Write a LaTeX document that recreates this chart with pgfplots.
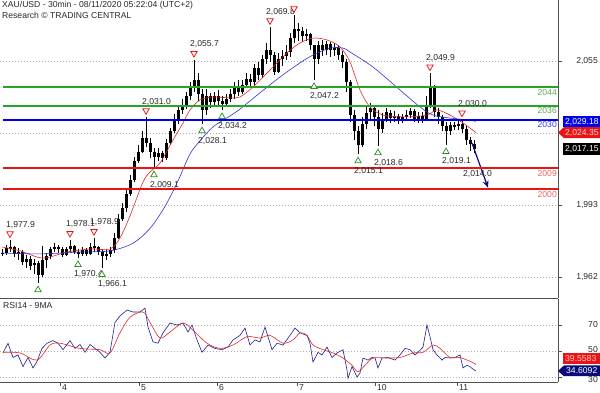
\documentclass[border=0pt]{standalone}
\usepackage{pgfplots}
\pgfplotsset{compat=1.18}
\usepackage{pgfplotstable}
\usepackage{fontspec}
\setmainfont{Liberation Sans}
\usetikzlibrary{arrows.meta}

\definecolor{lvgreen}{RGB}{40,165,40}
\definecolor{lvgreentxt}{RGB}{90,170,90}
\definecolor{lvblue}{RGB}{0,0,235}
\definecolor{lvbluetxt}{RGB}{60,60,225}
\definecolor{lvred}{RGB}{235,20,20}
\definecolor{lvredtxt}{RGB}{235,100,100}
\definecolor{mared}{RGB}{225,40,40}
\definecolor{mablue}{RGB}{50,50,210}
\definecolor{rsiblue}{RGB}{30,30,140}
\definecolor{navytag}{RGB}{10,10,120}
\definecolor{gridgray}{RGB}{175,175,175}
\definecolor{axisgray}{RGB}{80,80,80}
\definecolor{txtgray}{RGB}{40,40,40}
\definecolor{trigreen}{RGB}{40,150,40}

\newcommand\lab{\fontsize{8.6}{10.5}\selectfont}

\pgfplotstableread{
x o h l c
2 1972 1974 1971 1972.5
6 1972.5 1976 1971.5 1974.5
10 1974.5 1977.9 1973 1975
14 1975 1975.5 1970.5 1972
18 1972 1974.5 1969.5 1973
22 1973 1973.5 1967 1968.5
26 1968.5 1971.5 1966 1970
30 1970 1971 1965 1967
34 1967 1970 1963.5 1968
38 1968 1969 1959.5 1963
42 1963 1975.5 1962 1969.5
46 1969.5 1972.5 1966 1971
50 1971 1975 1970 1974
54 1974 1976.5 1973 1975
58 1975 1976 1972.5 1974
62 1974 1975 1970.5 1971.5
66 1971.5 1975 1971 1974
70 1974 1978.1 1973 1975.5
74 1975.5 1976 1972 1973
78 1973 1974 1970.4 1972
82 1972 1975 1971 1973.5
86 1973.5 1974.5 1971 1972
90 1972 1976.5 1971.5 1975
94 1975 1978.9 1973 1975
98 1975 1975.5 1971.5 1973
102 1973 1974 1966.1 1971
106 1971 1973.5 1969.5 1972
110 1972 1975 1970.5 1973.5
114 1973.5 1981 1972.5 1979
118 1979 1989 1978.5 1987
122 1987 1994 1986 1992
126 1992 2000 1990 1998
130 1998 2006 1997 2004
134 2004 2014 2003 2012
138 2012 2019 2011 2016
142 2016 2025 2015.5 2022
146 2022 2031.0 2018 2020
150 2020 2022 2013.5 2016
154 2016 2017.5 2009.1 2014
158 2014 2017.5 2012 2015.5
162 2015.5 2016.5 2011.5 2013.5
166 2013.5 2021.5 2012.5 2020
170 2020 2026.5 2019 2025
174 2025 2032.5 2024 2030
178 2030 2036 2028 2034
182 2034 2039 2032.5 2036
186 2036 2042 2034.5 2040
190 2040 2046 2038.5 2044
194 2044 2055.7 2042 2047
198 2047 2050 2038 2041
202 2041 2043 2028.1 2034
206 2034 2043 2032 2040
210 2040 2041.5 2035 2037.5
214 2037.5 2042 2036 2040
218 2040 2042.5 2036 2038
222 2038 2040 2034.2 2036.5
226 2036.5 2041 2035.5 2039
230 2039 2043 2037.5 2041
234 2041 2046 2039 2043.5
238 2043.5 2047 2040 2042
242 2042 2047 2041 2045
246 2045 2050 2044 2047.5
250 2047.5 2049.5 2043.5 2046
254 2046 2054 2045 2052
258 2052 2055 2047 2049
262 2049 2058 2048 2056
266 2056 2063 2054 2060
270 2060 2069.8 2055 2058
274 2058 2059 2049 2050.5
278 2050.5 2058.5 2050 2056
282 2056 2060 2053 2057.5
286 2057.5 2062 2055.5 2059
290 2059 2067.5 2057 2065
294 2065 2075 2063 2069
298 2069 2071.5 2064 2068
302 2068 2070 2063.5 2066
306 2066 2069 2064 2067
310 2067 2067.5 2060 2062
314 2062 2062 2047.2 2056
318 2056 2064 2054 2062
322 2062 2064.5 2057.5 2060
326 2060 2064 2058 2062.5
330 2062.5 2063.5 2057 2060
334 2060 2063 2057.5 2061
338 2061 2062 2055.5 2058
342 2058 2059.5 2052 2055
346 2055 2056 2042 2046
350 2046 2047 2029 2032
354 2032 2034 2021 2025
358 2025 2027 2015.1 2019
362 2019 2031 2018 2028
366 2028 2036 2026 2033
370 2033 2037 2030 2035
374 2035 2035.5 2027 2031
378 2031 2034 2018.6 2026
382 2026 2033 2024 2030
386 2030 2035 2029 2033
390 2033 2034 2028.5 2030.5
394 2030.5 2033.5 2029 2031.5
398 2031.5 2032.5 2028 2029.5
402 2029.5 2032.5 2028.5 2031
406 2031 2034 2030 2032
410 2032 2035 2030.5 2033.5
414 2033.5 2034.5 2029 2030
418 2030 2033 2028.5 2031.5
422 2031.5 2033 2028.5 2030
426 2030 2040 2029.5 2036
430 2036 2049.9 2035 2044
434 2044 2045 2031 2033
438 2033 2035 2028 2031
442 2031 2032 2025 2027
446 2027 2029 2019.1 2025
450 2025 2029 2023.5 2027.5
454 2027.5 2029 2025.5 2027
458 2027 2029.5 2025.5 2028
462 2028 2030.0 2024 2026
466 2026 2027 2019 2021
470 2021 2022.5 2016.5 2019.5
474 2019.5 2021 2015.5 2017.15
}\candles

\pgfplotstableread{
x y lab
10 1977.9 1,977.9
70 1978.1 1,978.1
94 1978.9 1,978.9
146 2031.0 2,031.0
194 2055.7 2,055.7
270 2069.8 2,069.8
430 2049.9 2,049.9
462 2030.0 2,030.0
}\highs

\pgfplotstableread{
x y
10 1977.9
70 1978.1
94 1978.9
146 2031.0
194 2055.7
270 2069.8
294 2075.0
430 2049.9
462 2030.0
}\hightri

\pgfplotstableread{
x y lab
78 1970.4 1,970.4
102 1966.1 1,966.1
154 2009.1 2,009.1
202 2028.1 2,028.1
222 2034.2 2,034.2
314 2047.2 2,047.2
358 2015.1 2,015.1
378 2018.6 2,018.6
446 2019.1 2,019.1
}\lows

\pgfplotstableread{
x y
38 1959.5
78 1970.4
102 1966.1
154 2009.1
202 2028.1
222 2034.2
314 2047.2
358 2015.1
378 2018.6
446 2019.1
}\lowtri

\begin{document}
\begin{tikzpicture}
\begin{axis}[
  at={(0,0)}, anchor=north west,
  scale only axis, width=558pt, height=298pt,
  xmin=0, xmax=558, ymin=1952.97, ymax=2081.53,
  axis x line*=bottom, axis y line*=right,
  axis line style={draw=axisgray, line width=0.8pt},
  xtick=\empty,
  ytick={1962,1993,2024,2055}, yticklabels={,,,},
  tick align=outside, major tick length=4pt,
  tick style={draw=axisgray, line width=0.6pt},
  ymajorgrids, grid style={gridgray, line width=0.9pt, dash pattern=on 1pt off 2pt},
  clip=false,
]
% candles: wicks
\addplot[draw=none, mark=none, error bars/.cd, y dir=both, y explicit, error mark=none,
  error bar style={draw=black, line width=0.55pt}]
  table[x=x, y expr={(\thisrow{h}+\thisrow{l})/2}, y error expr={(\thisrow{h}-\thisrow{l})/2}] {\candles};
% candles: bodies
\addplot[draw=none, mark=none, error bars/.cd, y dir=both, y explicit, error mark=none,
  error bar style={draw=black, line width=3pt}]
  table[x=x, y expr={(\thisrow{o}+\thisrow{c})/2}, y error expr={max(abs(\thisrow{c}-\thisrow{o})/2,0.3)}] {\candles};
% moving averages
\addplot[mared, line width=0.6pt, smooth] coordinates {
(2,1975) (20,1973.3) (43,1970.2) (67,1972.8) (90,1974.1) (110,1974.1) (120,1978.9)
(130,1988.4) (143,2003) (150,2007.3) (160,2011.2) (173,2021.1) (183,2028.5) (190,2034.1)
(200,2038.4) (213,2039.7) (230,2039.3) (240,2039.7) (253,2044) (270,2051.3) (287,2058.7)
(300,2063) (313,2065.1) (327,2064.3) (340,2061.3) (350,2054.8) (360,2042.7) (370,2035.4)
(383,2031.9) (407,2031.1) (427,2031.9) (437,2034.1) (450,2031.9) (463,2028.5) (476,2024.35)};
\addplot[mablue, line width=0.6pt, smooth] coordinates {
(2,1972.4) (40,1972) (80,1972.8) (110,1973.3) (133,1976.6) (150,1983) (165,1992.5)
(178,2003.5) (190,2015.1) (200,2020.8) (213,2026.8) (230,2031.5) (240,2034.5) (260,2041.5)
(280,2048.3) (300,2054.4) (313,2057.8) (330,2060.8) (343,2060.8) (350,2059.1) (373,2052.6)
(400,2042.7) (420,2035.4) (433,2031.9) (450,2030.6) (467,2029.8) (476,2029.18)};
% forecast arrow
\addplot[navytag, line width=1.2pt, -{Stealth[length=7pt, width=6pt]}] coordinates {(472,2019.8) (488,2000.6)};
% swing labels
\addplot[draw=none, mark=none, nodes near coords, point meta=explicit symbolic,
  every node near coord/.append style={anchor=base west, inner sep=0pt, xshift=-4pt, yshift=13pt, font=\lab, text=txtgray}]
  table[x=x, y=y, meta=lab] {\highs};
\addplot[draw=none, mark=none, nodes near coords, point meta=explicit symbolic,
  every node near coord/.append style={anchor=north west, inner sep=0pt, xshift=-4pt, yshift=-13pt, font=\lab, text=txtgray}]
  table[x=x, y=y, meta=lab] {\lows};
% levels, snapped to whole pixels (2 px high)
\fill[lvgreen] (axis cs:3,2043.566) rectangle (axis cs:558,2044.429);
\fill[lvgreen] (axis cs:3,2035.369) rectangle (axis cs:558,2036.232);
\fill[lvblue] (axis cs:3,2029.329) rectangle (axis cs:558,2030.192);
\fill[lvred] (axis cs:3,2008.622) rectangle (axis cs:558,2009.485);
\fill[lvred] (axis cs:3,1999.562) rectangle (axis cs:558,2000.425);
% swing markers
\addplot[only marks, mark=triangle*, mark size=3.7pt,
  mark options={yshift=6.5pt, rotate=180, draw=lvred, fill=white, line width=0.75pt}]
  table[x=x, y=y] {\hightri};
\addplot[only marks, mark=triangle*, mark size=3.7pt,
  mark options={yshift=-7pt, draw=trigreen, fill=white, line width=0.75pt}]
  table[x=x, y=y] {\lowtri};
% text
\node[anchor=west, inner sep=0pt, font=\lab, text=txtgray] at (axis cs:463,2006.5) {2,014.0};
\node[anchor=north east, inner sep=0pt, font=\lab, text=lvgreentxt, yshift=-2pt] at (axis cs:557,2044) {2044};
\node[anchor=north east, inner sep=0pt, font=\lab, text=lvgreentxt, yshift=-2pt] at (axis cs:557,2036) {2036};
\node[anchor=north east, inner sep=0pt, font=\lab, text=lvbluetxt, yshift=-2pt] at (axis cs:557,2030) {2030};
\node[anchor=north east, inner sep=0pt, font=\lab, text=lvredtxt, yshift=-2pt] at (axis cs:557,2009) {2009};
\node[anchor=north east, inner sep=0pt, font=\lab, text=lvredtxt, yshift=-2pt] at (axis cs:557,2000) {2000};
\node[anchor=north west, inner sep=0pt, align=left, font=\lab, text=txtgray, xshift=2pt, yshift=-1.5pt]
  at (rel axis cs:0,1) {XAU/USD - 30min - 08/11/2020 05:22:04 (UTC+2)\\Research \textcopyright{} TRADING CENTRAL};
% right tick labels
\node[anchor=east, inner sep=0pt, font=\lab, text=txtgray] at (axis cs:598,2055) {2,055};
\node[anchor=east, inner sep=0pt, font=\lab, text=txtgray] at (axis cs:598,1993) {1,993};
\node[anchor=east, inner sep=0pt, font=\lab, text=txtgray] at (axis cs:598,1962) {1,962};
% price tags
\fill[lvred] (axis cs:558,2024.35) -- (axis cs:564,2026.7) -- (axis cs:600,2026.7) -- (axis cs:600,2021.95) -- (axis cs:564,2021.95) -- cycle;
\node[anchor=west, inner sep=0pt, font=\lab, text=white!85!red] at (axis cs:565,2024.2) {2,024.35};
\fill[lvblue] (axis cs:563,2031.5) rectangle (axis cs:600,2026.6);
\node[anchor=west, inner sep=0pt, font=\lab, text=white] at (axis cs:565,2029.05) {2,029.18};
\fill[black] (axis cs:563,2019.8) rectangle (axis cs:600,2014.7);
\node[anchor=west, inner sep=0pt, font=\lab, text=white] at (axis cs:565,2017.25) {2,017.15};
\end{axis}

\begin{axis}[
  at={(0,-299pt)}, anchor=north west,
  scale only axis, width=558pt, height=83pt,
  xmin=0, xmax=558, ymin=26.15, ymax=90,
  axis x line*=bottom, axis y line*=right,
  axis line style={draw=axisgray, line width=0.8pt},
  xtick={60,139,217,297,375,457}, xticklabels={4,5,6,7,10,11},
  xticklabel style={anchor=north west, inner sep=0pt, xshift=2pt, yshift=2pt, font=\lab, text=txtgray},
  ytick={30,50,70}, yticklabels={,,},
  tick align=outside, major tick length=4pt,
  tick style={draw=axisgray, line width=0.6pt},
  ymajorgrids, grid style={gridgray, line width=0.9pt, dash pattern=on 1pt off 2pt},
  clip=false,
]
\addplot[rsiblue, line width=0.6pt] coordinates {
(3,48.5) (8,56) (13,45) (18,47) (23,38) (28,45) (33,37) (37,42) (42,52) (47,56) (53,58) (58,56)
(63,51) (70,58) (75,52) (80,55) (85,49) (90,55) (95,52) (100,49) (105,44.6) (110,49) (115,72)
(120,77) (127,81.5) (133,80) (140,80) (145,83) (148,68.5) (153,57) (158,56) (163,64) (170,71.5)
(177,70) (183,71.5) (188,64.6) (192,70) (197,58.5) (202,49) (208,54.6) (215,52) (222,51) (228,53)
(233,58.5) (240,62) (245,67.7) (250,54.6) (255,58.5) (260,57) (265,68.5) (268,61) (272,51) (277,56)
(283,54.6) (290,62) (295,67.7) (300,64) (307,62) (310,56) (313,41.5) (318,49) (322,47) (327,53)
(332,45) (337,48.5) (343,51) (347,35.4) (348,29) (352,38) (357,30) (360,33) (363,44.6) (368,43)
(372,45) (375,44.6) (378,37) (382,44.6) (388,45) (395,43) (400,47) (405,52) (410,51) (415,47)
(418,49) (423,53) (427,70) (430,61) (433,51) (437,47) (442,43) (445,45) (450,44.6) (455,45)
(460,47) (463,37) (467,39) (470,38) (473,36) (476,34.61)};
\addplot[mared, line width=0.6pt, smooth] coordinates {
(3,49) (20,48.5) (37,43) (50,54.6) (60,56) (80,52) (100,51) (110,48.5) (120,64) (130,76) (143,80)
(150,72) (160,60) (170,64.6) (183,71.5) (193,66) (207,56) (220,52) (233,54.6) (247,61) (260,60)
(270,62) (283,56) (293,58.5) (300,64) (307,62) (313,54.6) (323,51) (333,48.5) (343,44.6) (352,39)
(358,34) (365,39) (373,44.6) (387,44.6) (400,45) (413,48.5) (423,49) (433,54.6) (440,52) (450,45)
(460,45) (473,41) (476,39.56)};
\node[anchor=north west, inner sep=0pt, font=\lab, text=txtgray, xshift=3pt, yshift=-3pt] at (rel axis cs:0,1) {RSI14 - 9MA};
\node[anchor=east, inner sep=0pt, font=\lab, text=txtgray] at (axis cs:598,70) {70};
\node[anchor=south east, inner sep=0pt, font=\lab, text=txtgray] at (axis cs:598,48.6) {50};
\node[anchor=north east, inner sep=0pt, font=\lab, text=txtgray] at (axis cs:598,30.5) {30};
\fill[lvred] (axis cs:563,48.5) rectangle (axis cs:600,40.0);
\node[anchor=west, inner sep=0pt, font=\lab, text=white!80!red] at (axis cs:565,44.2) {39.5583};
\fill[navytag] (axis cs:558,34.6) -- (axis cs:564,39.0) -- (axis cs:600,39.0) -- (axis cs:600,30.6) -- (axis cs:564,30.6) -- cycle;
\node[anchor=west, inner sep=0pt, font=\lab, text=white] at (axis cs:566,34.7) {34.6092};
\end{axis}
\pgfresetboundingbox
\path[use as bounding box] (0,0) rectangle (600pt,-392pt);
\end{tikzpicture}
\end{document}
